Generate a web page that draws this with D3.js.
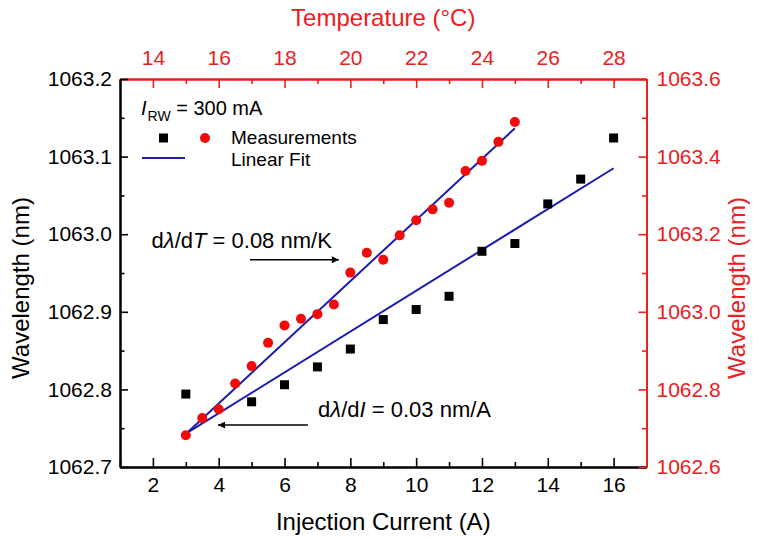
<!DOCTYPE html>
<html>
<head>
<meta charset="utf-8">
<script src="https://cdn.jsdelivr.net/npm/d3@7/dist/d3.min.js"></script>
<style>
  html, body { margin: 0; padding: 0; background: #fff; }
  svg { display: block; font-family: "Liberation Sans", Arial, sans-serif; }
</style>
</head>
<body>
<svg id="chart" width="759" height="539"></svg>
<script>
// ---- data ----
const currentBlack = [3, 5, 6, 7, 8, 9, 10, 11, 12, 13, 14, 15, 16];
const wavelengthBlack = [1062.794, 1062.784, 1062.806, 1062.829, 1062.852, 1062.890, 1062.903, 1062.920, 1062.978, 1062.988, 1063.039, 1063.071, 1063.124];

const temperatureRed = [15, 15.5, 16, 16.5, 17, 17.5, 18, 18.5, 19, 19.5, 20, 20.5, 21, 21.5, 22, 22.5, 23, 23.5, 24, 24.5, 25];
const wavelengthRed = [1062.682, 1062.726, 1062.749, 1062.815, 1062.860, 1062.920, 1062.965, 1062.982, 1062.994, 1063.019, 1063.101, 1063.152, 1063.134, 1063.197, 1063.236, 1063.264, 1063.281, 1063.363, 1063.389, 1063.438, 1063.489];

const fitCurrent = [3, 16];
const fitWavelengthLeft = [1062.743, 1063.085];
const fitTemperature = [15, 25];
const fitWavelengthRight = [1062.685, 1063.473];

const currentTicks = [2, 4, 6, 8, 10, 12, 14, 16];
const currentMinor = [1, 3, 5, 7, 9, 11, 13, 15, 17];
const temperatureTicks = [14, 16, 18, 20, 22, 24, 26, 28];
const temperatureMinor = [13, 15, 17, 19, 21, 23, 25, 27, 29];
const leftTicks = [1062.7, 1062.8, 1062.9, 1063.0, 1063.1, 1063.2];
const leftMinor = [1062.75, 1062.85, 1062.95, 1063.05, 1063.15];
const rightTicks = [1062.6, 1062.8, 1063.0, 1063.2, 1063.4, 1063.6];
const rightMinor = [1062.7, 1062.9, 1063.1, 1063.3, 1063.5];

// ---- layout ----
const L = 120, R = 646.5, T = 79, B = 467;
const RED = "#e8201e", BLUE = "#1c1cb0";

const svg = d3.select("#chart");
svg.append("rect").attr("width", 759).attr("height", 539).attr("fill", "#fff");

const x = d3.scaleLinear().domain([1, 17]).range([L, R]);
const xT = d3.scaleLinear().domain([13, 29]).range([L, R]);
const yL = d3.scaleLinear().domain([1062.7, 1063.2]).range([B, T]);
const yR = d3.scaleLinear().domain([1062.6, 1063.6]).range([B, T]);

function styleAxis(g, color, fs) {
  g.selectAll("path.domain").attr("stroke", color).attr("stroke-width", 2);
  g.selectAll(".tick line").attr("stroke", color).attr("stroke-width", 1.6);
  g.selectAll(".tick text").attr("fill", color).attr("font-size", fs)
    .attr("font-family", "'Liberation Sans', Arial, sans-serif");
}

// minor ticks
svg.append("g").attr("transform", `translate(0,${B})`)
  .call(d3.axisBottom(x).tickValues(currentMinor).tickSizeInner(-5).tickSizeOuter(0).tickFormat(""))
  .call(g => styleAxis(g, "#000", 21));
svg.append("g").attr("transform", `translate(0,${T})`)
  .call(d3.axisTop(xT).tickValues(temperatureMinor).tickSizeInner(-5).tickSizeOuter(0).tickFormat(""))
  .call(g => styleAxis(g, RED, 21));
svg.append("g").attr("transform", `translate(${L},0)`)
  .call(d3.axisLeft(yL).tickValues(leftMinor).tickSizeInner(-4.5).tickSizeOuter(0).tickFormat(""))
  .call(g => styleAxis(g, "#000", 21));
svg.append("g").attr("transform", `translate(${R},0)`)
  .call(d3.axisRight(yR).tickValues(rightMinor).tickSizeInner(-4.5).tickSizeOuter(0).tickFormat(""))
  .call(g => styleAxis(g, RED, 21));

// major axes
svg.append("g").attr("transform", `translate(0,${B})`)
  .call(d3.axisBottom(x).tickValues(currentTicks).tickSizeInner(-9).tickSizeOuter(0).tickPadding(10).tickFormat(d3.format("d")))
  .call(g => styleAxis(g, "#000", 21));
svg.append("g").attr("transform", `translate(0,${T})`)
  .call(d3.axisTop(xT).tickValues(temperatureTicks).tickSizeInner(-9).tickSizeOuter(0).tickPadding(14).tickFormat(d3.format("d")))
  .call(g => styleAxis(g, RED, 21));
svg.append("g").attr("transform", `translate(${L},0)`)
  .call(d3.axisLeft(yL).tickValues(leftTicks).tickSizeInner(-8).tickSizeOuter(0).tickPadding(8).tickFormat(d3.format(".1f")))
  .call(g => styleAxis(g, "#000", 21));
svg.append("g").attr("transform", `translate(${R},0)`)
  .call(d3.axisRight(yR).tickValues(rightTicks).tickSizeInner(-8).tickSizeOuter(0).tickPadding(10).tickFormat(d3.format(".1f")))
  .call(g => styleAxis(g, RED, 21));

// axis titles
svg.append("text").attr("x", (L + R) / 2).attr("y", 530).attr("text-anchor", "middle")
  .attr("font-size", 24).attr("fill", "#000").text("Injection Current (A)");
svg.append("text").attr("x", (L + R) / 2).attr("y", 26).attr("text-anchor", "middle")
  .attr("font-size", 24).attr("fill", RED).text("Temperature (°C)");
svg.append("text").attr("transform", "translate(29,288) rotate(-90)").attr("text-anchor", "middle")
  .attr("font-size", 24).attr("fill", "#000").text("Wavelength (nm)");
svg.append("text").attr("transform", "translate(745,288) rotate(-90)").attr("text-anchor", "middle")
  .attr("font-size", 24).attr("fill", RED).text("Wavelength (nm)");

// fit lines
const blackFit = fitCurrent.map((c, i) => [x(c), yL(fitWavelengthLeft[i])]);
const redFit = fitTemperature.map((t, i) => [xT(t), yR(fitWavelengthRight[i])]);
const line = d3.line();
svg.append("path").attr("d", line(blackFit)).attr("stroke", BLUE).attr("stroke-width", 2).attr("fill", "none");
svg.append("path").attr("d", line(redFit)).attr("stroke", BLUE).attr("stroke-width", 2).attr("fill", "none");

// markers
const sq = 9;
svg.append("g").selectAll("rect").data(currentBlack).join("rect")
  .attr("x", (d) => x(d) - sq / 2)
  .attr("y", (d, i) => yL(wavelengthBlack[i]) - sq / 2)
  .attr("width", sq).attr("height", sq).attr("fill", "#000");
svg.append("g").selectAll("circle").data(temperatureRed).join("circle")
  .attr("cx", (d) => xT(d))
  .attr("cy", (d, i) => yR(wavelengthRed[i]))
  .attr("r", 5).attr("fill", "#f00a0a");

// legend
const lg = svg.append("g");
const t1 = lg.append("text").attr("x", 141).attr("y", 115).attr("font-size", 20).attr("fill", "#000");
t1.append("tspan").attr("font-style", "italic").text("I");
t1.append("tspan").attr("font-size", 14).attr("dy", 6).attr("dx", 1).text("RW");
t1.append("tspan").attr("dy", -6).text(" = 300 mA");
lg.append("rect").attr("x", 163.5 - sq / 2).attr("y", 138 - sq / 2).attr("width", sq).attr("height", sq).attr("fill", "#000");
lg.append("circle").attr("cx", 205).attr("cy", 138).attr("r", 5).attr("fill", "#f00a0a");
lg.append("text").attr("x", 231).attr("y", 144).attr("font-size", 19).attr("fill", "#000").text("Measurements");
lg.append("line").attr("x1", 142).attr("x2", 185).attr("y1", 158).attr("y2", 158).attr("stroke", BLUE).attr("stroke-width", 2);
lg.append("text").attr("x", 231).attr("y", 166).attr("font-size", 19).attr("fill", "#000").text("Linear Fit");

// annotations
const defs = svg.append("defs");
defs.append("marker").attr("id", "ah").attr("viewBox", "0 0 10 10").attr("refX", 10).attr("refY", 5)
  .attr("markerWidth", 10).attr("markerHeight", 7).attr("markerUnits", "userSpaceOnUse")
  .attr("orient", "auto")
  .append("path").attr("d", "M0,0 L10,5 L0,10 Z").attr("fill", "#000");

const a1 = svg.append("text").attr("x", x(1.96)).attr("y", yL(1062.982)).attr("font-size", 22).attr("fill", "#000");
a1.append("tspan").text("d");
a1.append("tspan").attr("font-style", "italic").text("λ");
a1.append("tspan").text("/d");
a1.append("tspan").attr("font-style", "italic").text("T");
a1.append("tspan").text(" = 0.08 nm/K");
svg.append("line").attr("x1", x(4.95)).attr("x2", x(7.65)).attr("y1", yL(1062.967)).attr("y2", yL(1062.967))
  .attr("stroke", "#000").attr("stroke-width", 1.5).attr("marker-end", "url(#ah)");

const a2 = svg.append("text").attr("x", x(7.02)).attr("y", yL(1062.765)).attr("font-size", 22).attr("fill", "#000");
a2.append("tspan").text("d");
a2.append("tspan").attr("font-style", "italic").text("λ");
a2.append("tspan").text("/d");
a2.append("tspan").attr("font-style", "italic").text("I");
a2.append("tspan").text(" = 0.03 nm/A");
svg.append("line").attr("x1", x(6.71)).attr("x2", x(3.98)).attr("y1", yL(1062.754)).attr("y2", yL(1062.754))
  .attr("stroke", "#000").attr("stroke-width", 1.5).attr("marker-end", "url(#ah)");
</script>
</body>
</html>
